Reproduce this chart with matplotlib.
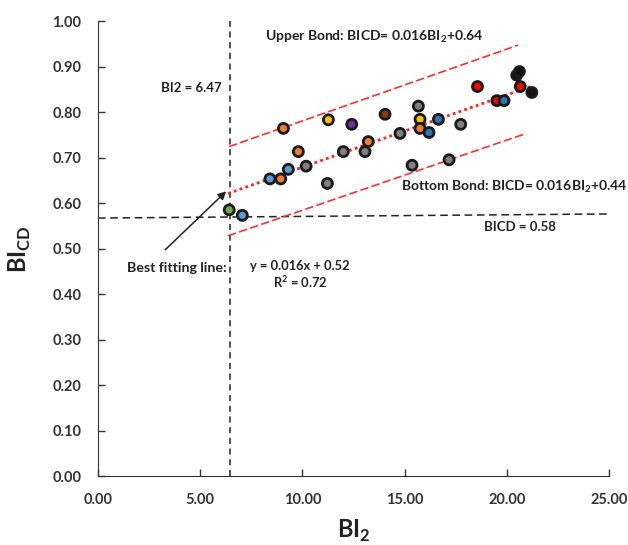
import numpy as np
import matplotlib.pyplot as plt

plt.rcParams['font.family'] = ['Lato', 'DejaVu Sans']
plt.rcParams['font.weight'] = 'bold'
plt.rcParams['mathtext.fontset'] = 'custom'
plt.rcParams['mathtext.rm'] = 'Lato:bold'
plt.rcParams['mathtext.bf'] = 'Lato:bold'

# data (BI2, BICD, point colour)
bi2 = [6.42, 7.06, 8.41, 8.94, 9.07, 9.31, 9.80, 10.18, 11.22, 11.27, 12.00,
       12.41, 13.06, 13.22, 14.04, 14.77, 15.36, 15.67, 15.75, 15.75, 16.19,
       16.65, 17.17, 17.74, 18.56, 19.51, 19.86, 20.48, 20.61, 20.65, 21.22]
bicd = [0.586, 0.574, 0.654, 0.654, 0.765, 0.675, 0.714, 0.682, 0.644, 0.784, 0.714,
        0.774, 0.714, 0.736, 0.796, 0.754, 0.684, 0.814, 0.785, 0.765, 0.756,
        0.785, 0.696, 0.774, 0.857, 0.826, 0.826, 0.882, 0.890, 0.857, 0.844]
colors = ['#70AD47', '#5B9BD5', '#5B9BD5', '#ED7D31', '#ED7D31', '#5B9BD5', '#ED7D31',
          '#7F7F7F', '#7F7F7F', '#FFC000', '#7F7F7F', '#7030A0', '#7F7F7F', '#ED7D31',
          '#843C0C', '#7F7F7F', '#7F7F7F', '#7F7F7F', '#FFC000', '#ED7D31', '#2E75B6',
          '#2E75B6', '#7F7F7F', '#7F7F7F', '#FF0000', '#FF0000', '#2E75B6', '#111111',
          '#111111', '#FF0000', '#111111']

# trend line and bounds as drawn on the chart
fit_x = [6.36, 21.22]
fit_y = [0.622, 0.858]
upper_x = [6.41, 20.55]
upper_y = [0.725, 0.948]
lower_x = [6.36, 20.94]
lower_y = [0.529, 0.754]

# threshold lines
bi2_limit = 6.47
hline_x = [0, 25]
hline_y = [0.568, 0.577]

xticks = np.arange(0, 25.1, 5)
yticks = np.arange(0, 1.01, 0.1)

fig = plt.figure(figsize=(6.28, 5.45), dpi=100)
ax = fig.add_axes([0.156, 0.1257, 0.814, 0.8349])

ax.plot([bi2_limit, bi2_limit], [0, 1.0], color='#222222', lw=1.1,
        dashes=(4, 3), zorder=1)
ax.plot(hline_x, hline_y, color='#222222', lw=1.1, dashes=(5, 3), zorder=1,
        clip_on=False)

ax.plot(upper_x, upper_y, color='#FF3030', lw=1.2, dashes=(5, 2), zorder=2)
ax.plot(lower_x, lower_y, color='#FF3030', lw=1.2, dashes=(5, 2), zorder=2)
ax.plot(fit_x, fit_y, color='#FF2020', lw=2.0, linestyle=(0, (1, 1.2)), zorder=2)

ax.scatter(bi2, bicd, s=52, c=colors, edgecolors='#1a1a1a', linewidths=2.0,
           zorder=3)

ax.set_xlim(0, 25)
ax.set_ylim(0, 1.0)
ax.set_xticks(xticks)
ax.set_yticks(yticks)
ax.set_xticklabels(['%.2f' % v for v in xticks])
ax.set_yticklabels(['%.2f' % v for v in yticks])
ax.tick_params(direction='in', length=5, width=1, pad=12, labelsize=10.5,
               colors='#333333')
for lab in ax.get_xticklabels() + ax.get_yticklabels():
    lab.set_fontweight('bold')
for s in ['top', 'right']:
    ax.spines[s].set_visible(False)
for s in ['left', 'bottom']:
    ax.spines[s].set_color('#333333')

ax.set_xlabel(r'BI$_{\mathbf{2}}$', fontsize=17, fontweight='bold', labelpad=8,
              color='#222222')
ax.set_ylabel(r'BI$_{\mathbf{CD}}$', fontsize=17, fontweight='bold', labelpad=14,
              color='#222222')

tc = '#222222'
ax.text(8.17, 0.966, r'Upper Bond: BICD= 0.016BI$_{\mathbf{2}}$+0.64', fontsize=10,
        ha='left', va='center', color=tc)
ax.text(6.07, 0.854, 'BI2 = 6.47', fontsize=9.5, ha='right', va='center', color=tc)
ax.text(14.81, 0.637, r'Bottom Bond: BICD= 0.016BI$_{\mathbf{2}}$+0.44', fontsize=10,
        ha='left', va='center', color=tc)
ax.text(20.65, 0.548, 'BICD = 0.58', fontsize=9.5, ha='center', va='center', color=tc)
ax.text(1.40, 0.458, 'Best fitting line:', fontsize=10.2, ha='left', va='center',
        color=tc)
ax.text(9.88, 0.443, 'y = 0.016x + 0.52\nR$^{2}$ = 0.72', fontsize=9.3, ha='center',
        va='center', color=tc, linespacing=1.15)

ax.annotate('', xy=(6.37, 0.631), xytext=(3.19, 0.494),
            arrowprops=dict(arrowstyle='-|>', color='#222222', lw=1.1,
                            mutation_scale=12))

fig.savefig('out.png', dpi=100)
